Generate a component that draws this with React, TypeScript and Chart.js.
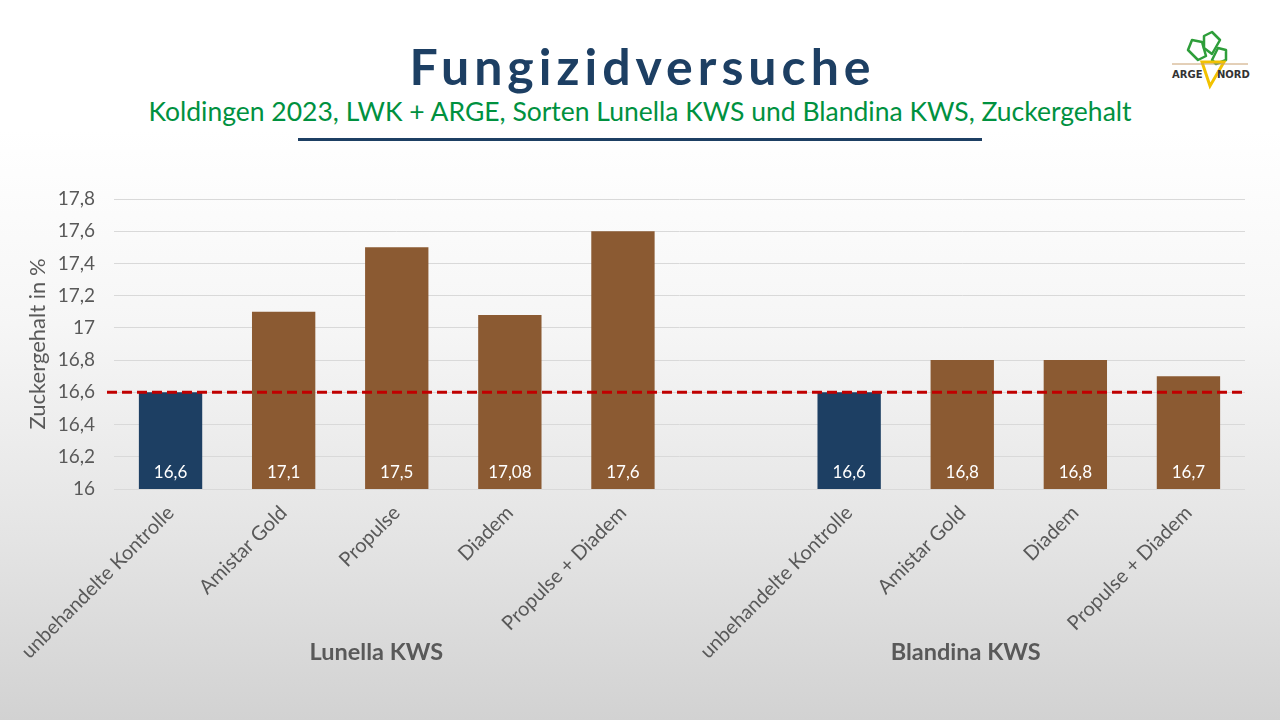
import React, { useEffect, useRef } from "react";
import { Chart, registerables } from "chart.js";

Chart.register(...registerables);

const categories = [
  "unbehandelte Kontrolle",
  "Amistar Gold",
  "Propulse",
  "Diadem",
  "Propulse + Diadem",
  "",
  "unbehandelte Kontrolle",
  "Amistar Gold",
  "Diadem",
  "Propulse + Diadem",
];
const sugarValues: (number | null)[] = [16.6, 17.1, 17.5, 17.08, 17.6, null, 16.6, 16.8, 16.8, 16.7];
const isControl = [true, false, false, false, false, false, true, false, false, false];
const groupLabels = ["Lunella KWS", "Blandina KWS"];
const groupPositions = [1.82, 7.03];
const referenceValue = 16.6;
const yMin = 16;
const yMax = 17.8;
const yStep = 0.2;

const FONT = "Lato, 'Open Sans', sans-serif";
const GRAY = "#595959";
const BLUE = "#1D3F63";
const BROWN = "#8B5A32";

const fmt = (v: number) => String(Number(v.toFixed(2))).replace(".", ",");

const overlayPlugin = {
  id: "overlay",
  afterDatasetsDraw(chart: any) {
    const { ctx, chartArea, scales } = chart;
    const y = scales.y.getPixelForValue(referenceValue);
    ctx.save();
    ctx.strokeStyle = "#C00000";
    ctx.lineWidth = 3;
    ctx.setLineDash([10, 5]);
    ctx.beginPath();
    ctx.moveTo(chartArea.left - 7, y);
    ctx.lineTo(chartArea.right, y);
    ctx.stroke();
    ctx.setLineDash([]);
    // data labels
    const meta = chart.getDatasetMeta(0);
    ctx.fillStyle = "#ffffff";
    ctx.font = `17px ${FONT}`;
    ctx.textAlign = "center";
    ctx.textBaseline = "middle";
    meta.data.forEach((bar: any, i: number) => {
      const v = sugarValues[i];
      if (v == null) return;
      ctx.fillText(fmt(v), bar.x, scales.y.getPixelForValue(yMin) - 16);
    });
    // group labels
    ctx.fillStyle = GRAY;
    ctx.font = `bold 23.5px ${FONT}`;
    groupLabels.forEach((g, i) => {
      ctx.fillText(g, scales.x.getPixelForValue(groupPositions[i]), 652);
    });
    ctx.restore();
  },
};

function Logo() {
  return (
    <svg width="84" height="62" viewBox="0 0 84 62" style={{ position: "absolute", left: 1168, top: 30 }}>
      <g fill="none" stroke="#2E9E3A" strokeWidth="2.5" strokeLinejoin="round">
        <path d="M30 30 L20 20 L24 10 L34 12 L38 26 Z" />
        <path d="M36 18 L36 6 L44 2 L52 10 L44 24 Z" />
        <path d="M44 30 L50 18 L58 20 L58 30 L48 34 Z" />
      </g>
      <path d="M34 32 L42 56 L56 32 Z" fill="none" stroke="#F2C200" strokeWidth="3" />
      <line x1="4" y1="34" x2="80" y2="34" stroke="#C8A070" strokeWidth="1" />
      <text x="4" y="48" fontFamily="DejaVu Sans, sans-serif" fontWeight="bold" fontSize="10" fill="#333">ARGE</text>
      <text x="49" y="48" fontFamily="DejaVu Sans, sans-serif" fontWeight="bold" fontSize="10" fill="#333">NORD</text>
    </svg>
  );
}

export default function App() {
  const canvasRef = useRef<HTMLCanvasElement | null>(null);

  useEffect(() => {
    document.body.style.margin = "0";
    const canvas = canvasRef.current;
    if (!canvas) return;
    const chart = new Chart(canvas, {
      type: "bar",
      data: {
        labels: categories,
        datasets: [
          {
            data: sugarValues,
            backgroundColor: isControl.map((c) => (c ? BLUE : BROWN)),
            categoryPercentage: 1,
            barPercentage: 0.56,
          },
        ],
      },
      options: {
        responsive: false,
        animation: false,
        layout: { padding: { top: 199, left: 0, right: 35, bottom: 0 } },
        plugins: { legend: { display: false }, tooltip: { enabled: false }, title: { display: false } },
        scales: {
          x: {
            grid: { display: false },
            border: { display: false },
            ticks: {
              autoSkip: false,
              maxRotation: 45,
              minRotation: 45,
              color: GRAY,
              font: { family: FONT, size: 20 },
              padding: 4,
            },
            afterFit: (s: any) => {
              s.height = 231;
            },
          },
          y: {
            min: yMin,
            max: yMax,
            grid: { color: "#D9D9D9", drawTicks: false, lineWidth: 1 },
            border: { display: false },
            ticks: {
              stepSize: yStep,
              color: GRAY,
              font: { family: FONT, size: 19 },
              padding: 19,
              callback: (v: any) => fmt(Number(v)),
            },
            title: {
              display: true,
              text: "Zuckergehalt in %",
              color: GRAY,
              font: { family: FONT, size: 22 },
              padding: { top: 25, bottom: 0 },
            },
            afterFit: (s: any) => {
              s.width = 114;
            },
          },
        },
      },
      plugins: [overlayPlugin],
    });
    return () => chart.destroy();
  }, []);

  return (
    <div
      style={{
        position: "relative",
        width: 1280,
        height: 720,
        overflow: "hidden",
        background: "linear-gradient(to bottom, #ffffff 0%, #ffffff 18%, #f6f6f6 45%, #e4e4e4 75%, #d2d2d2 100%)",
        fontFamily: FONT,
      }}
    >
      <div
        style={{
          position: "absolute",
          top: 36,
          left: 0,
          width: 1280,
          textAlign: "center",
          fontSize: 50,
          fontWeight: "bold",
          letterSpacing: 5,
          color: "#1D3F63",
          lineHeight: "60px",
          paddingLeft: 5,
          boxSizing: "border-box",
        }}
      >
        Fungizidversuche
      </div>
      <div
        style={{
          position: "absolute",
          top: 94,
          left: 0,
          width: 1280,
          textAlign: "center",
          fontSize: 26.5,
          color: "#00913F",
          lineHeight: "34px",
        }}
      >
        Koldingen 2023, LWK + ARGE, Sorten Lunella KWS und Blandina KWS, Zuckergehalt
      </div>
      <div style={{ position: "absolute", top: 138, left: 298, width: 684, height: 3, background: "#1D3F63" }} />
      <Logo />
      <canvas ref={canvasRef} width={1280} height={720} style={{ position: "absolute", left: 0, top: 0 }} />
    </div>
  );
}
